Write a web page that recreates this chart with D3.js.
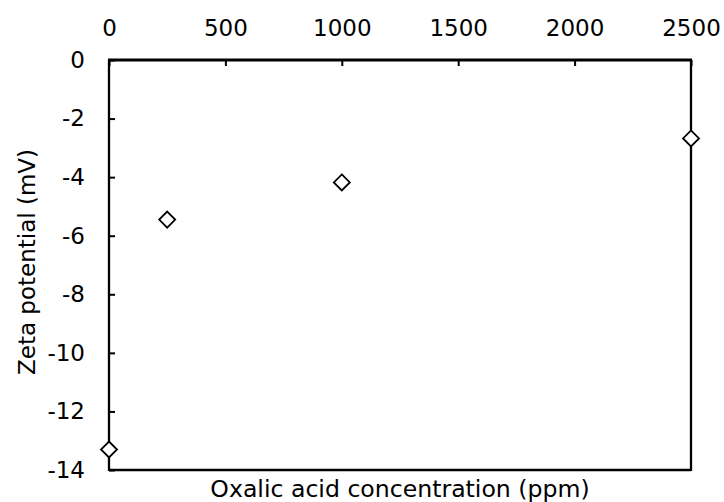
<!DOCTYPE html>
<html><head><meta charset="utf-8">
<script src="https://cdn.jsdelivr.net/npm/d3@7"></script>
<style>body{margin:0;background:#fff;} svg{display:block;} text{font-family:"DejaVu Sans",Verdana,sans-serif;fill:#000;}</style>
</head><body>
<svg id="chart" width="724" height="502"></svg>
<script>
const concentration = [0, 250, 1000, 2500];
const zeta = [-13.3, -5.45, -4.18, -2.68];
const xTicks = [0, 500, 1000, 1500, 2000, 2500];
const yTicks = [0, -2, -4, -6, -8, -10, -12, -14];

const svg = d3.select("#chart");
const L = 109, R = 691, T = 60, B = 470;
const x = d3.scaleLinear().domain([0, 2500]).range([L, R]);
const y = d3.scaleLinear().domain([-14, 0]).range([B, T]);
const fs = 23;

const xAxis = d3.axisTop(x).tickValues(xTicks).tickSize(-6).tickPadding(24).tickFormat(d3.format("d"));
const gx = svg.append("g").attr("transform", `translate(0,${T})`).call(xAxis);
const yAxis = d3.axisLeft(y).tickValues(yTicks).tickSize(-6).tickPadding(24).tickFormat(d => d < 0 ? "-" + Math.abs(d) : String(d));
const gy = svg.append("g").attr("transform", `translate(${L},0)`).call(yAxis);
[gx, gy].forEach(g => {
  g.attr("font-size", fs).attr("font-family", "DejaVu Sans, Verdana, sans-serif");
  g.select(".domain").remove();
  g.selectAll("line").attr("stroke", "#000").attr("stroke-width", 2);
  g.selectAll("text").attr("font-size", fs).attr("fill", "#000");
});
svg.append("line").attr("x1", L - 1).attr("x2", R + 1).attr("y1", T).attr("y2", T).attr("stroke", "#000").attr("stroke-width", 3);
svg.append("line").attr("x1", L).attr("x2", L).attr("y1", T).attr("y2", B + 1).attr("stroke", "#000").attr("stroke-width", 2.3);
svg.append("line").attr("x1", R).attr("x2", R).attr("y1", T).attr("y2", B + 1).attr("stroke", "#000").attr("stroke-width", 2.3);
svg.append("line").attr("x1", L).attr("x2", R).attr("y1", B).attr("y2", B).attr("stroke", "#000").attr("stroke-width", 2.3);

const pts = concentration.map((c, i) => ({c, z: zeta[i]}));
svg.append("g").selectAll("path").data(pts).join("path")
  .attr("transform", d => `translate(${x(d.c)},${y(d.z)})`)
  .attr("d", "M0,-8L8,0L0,8L-8,0Z")
  .attr("fill", "#fff").attr("stroke", "#000").attr("stroke-width", 1.8);

svg.append("text").attr("x", 400).attr("y", 497).attr("text-anchor", "middle")
  .attr("font-size", 23.6).text("Oxalic acid concentration (ppm)");
svg.append("text").attr("transform", `translate(35,${(T + B) / 2 - 3}) rotate(-90)`).attr("text-anchor", "middle")
  .attr("font-size", fs).text("Zeta potential (mV)");
</script>
</body></html>
